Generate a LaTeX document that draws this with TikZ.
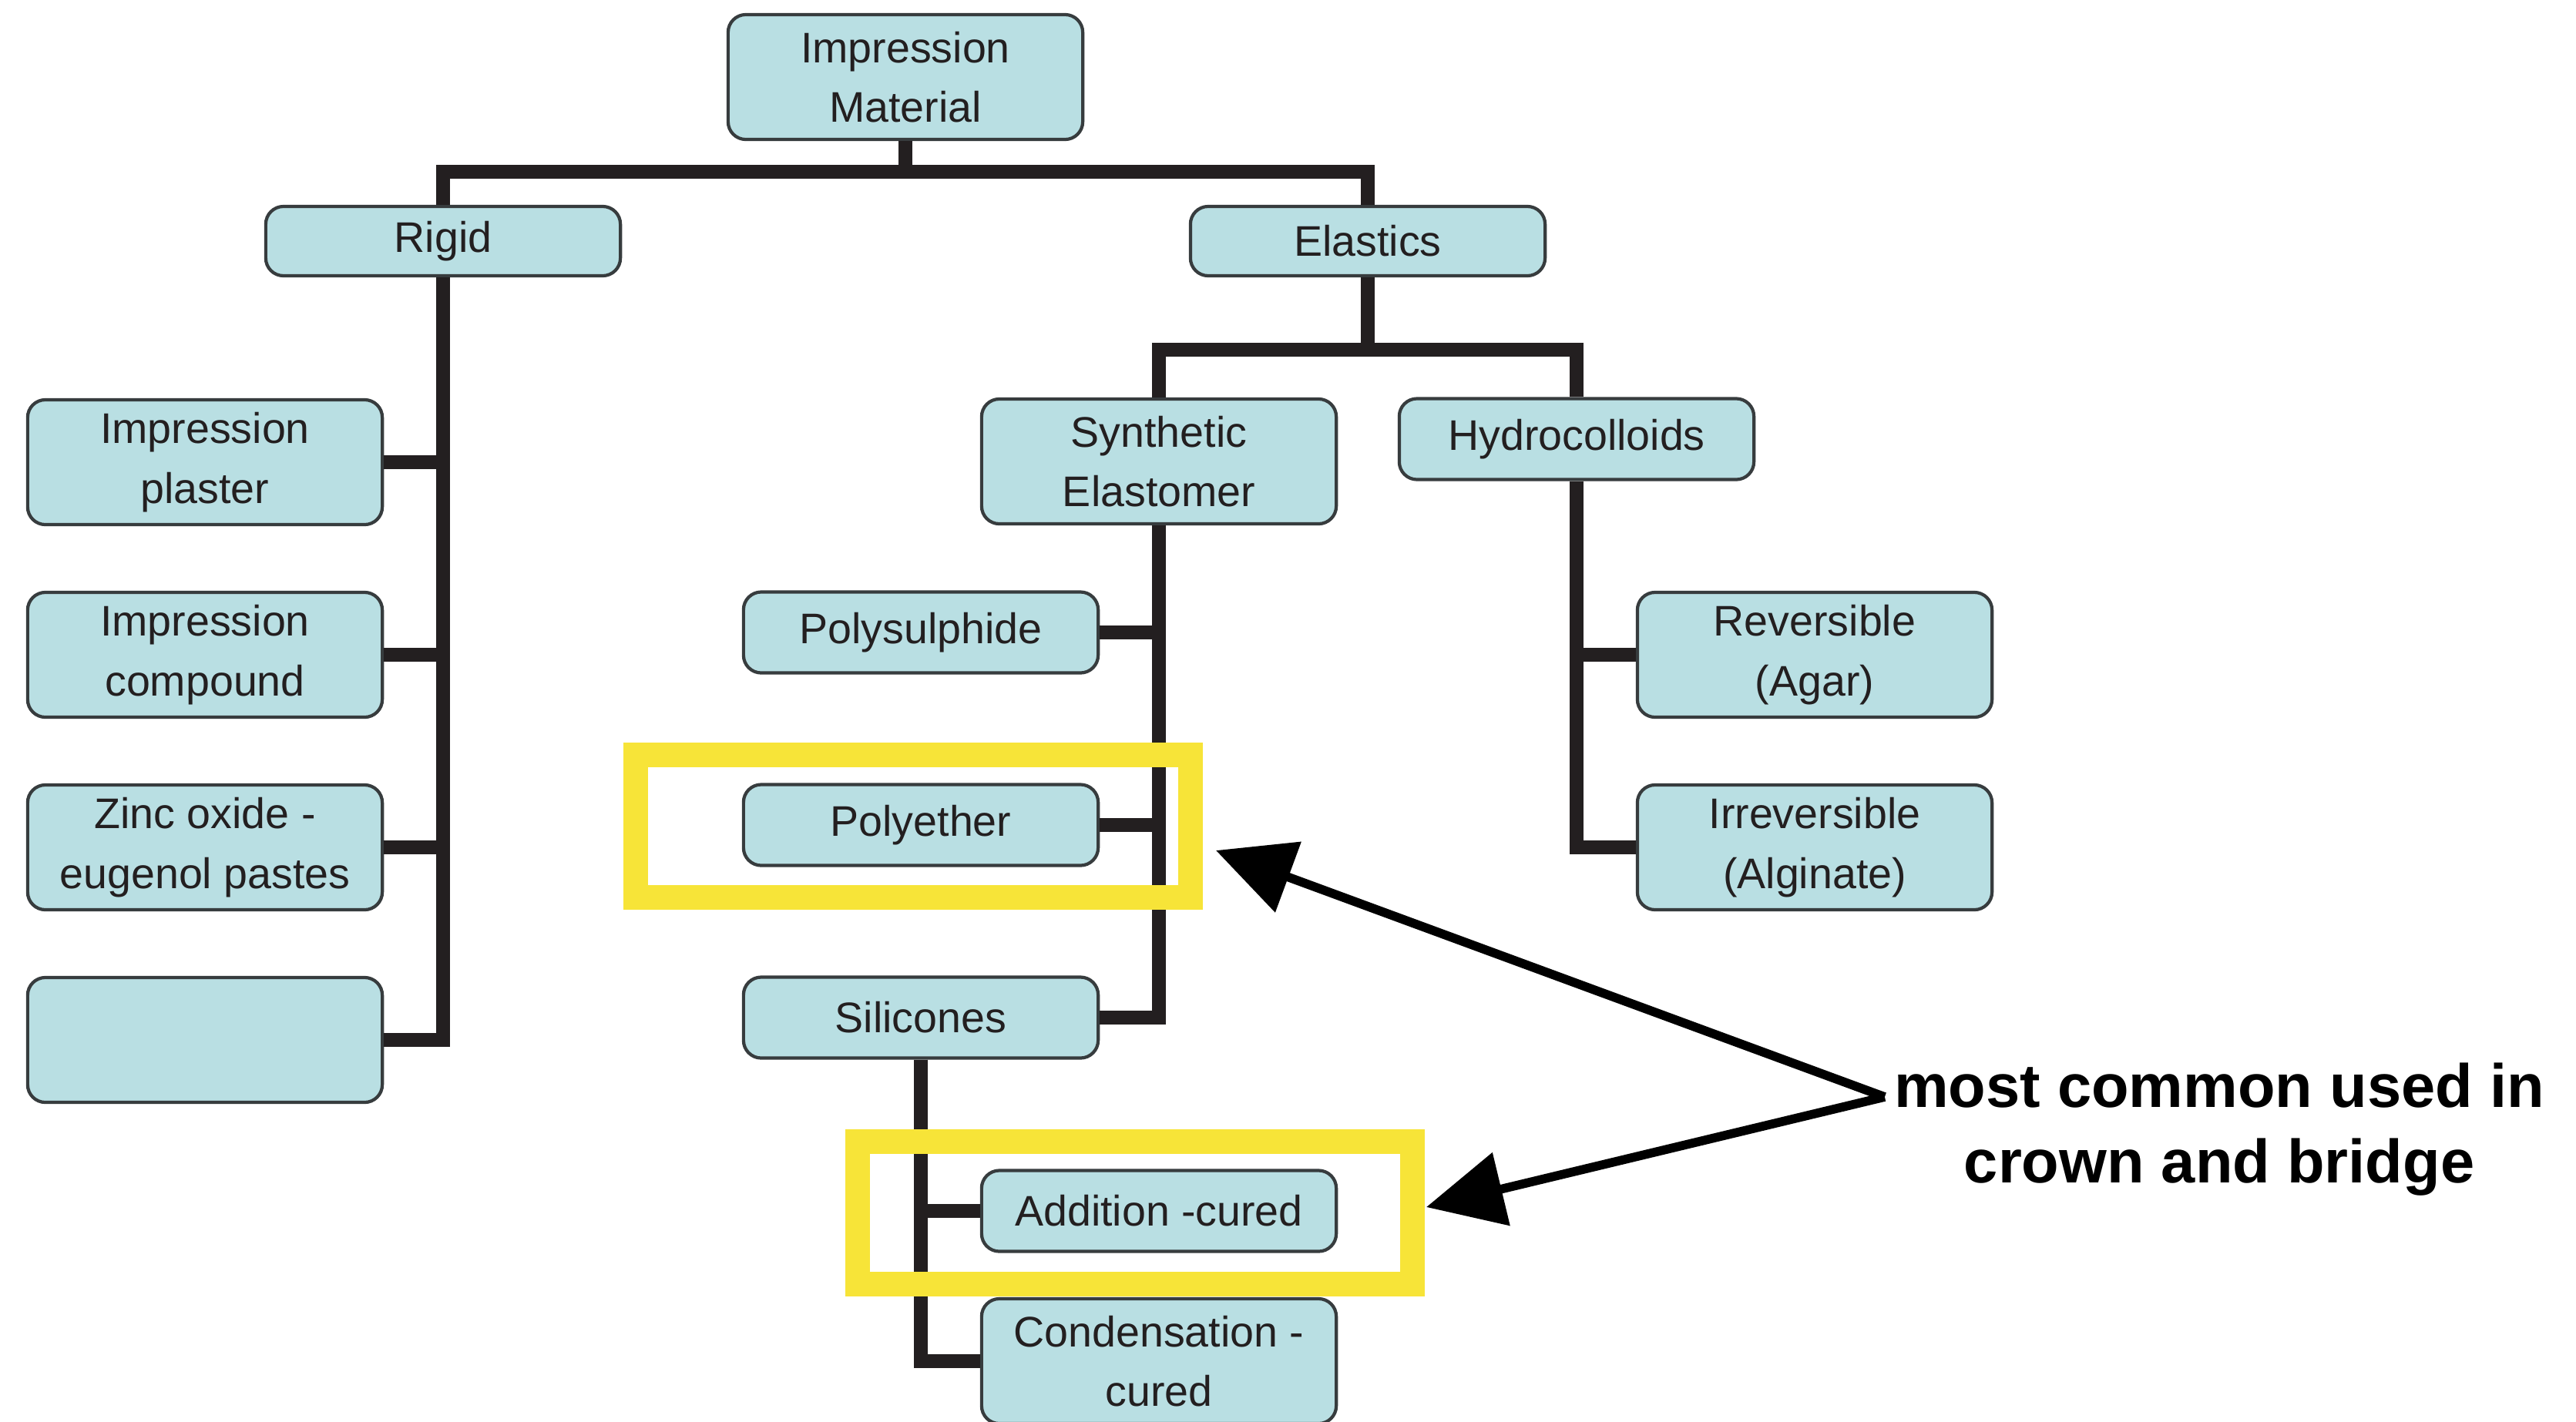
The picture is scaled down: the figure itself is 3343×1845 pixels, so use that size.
\documentclass[tikz,border=0pt]{standalone}
\usepackage{fontspec}
\setmainfont{Liberation Sans}
\usetikzlibrary{arrows.meta}

\definecolor{boxfill}{RGB}{185,223,227}
\definecolor{boxline}{RGB}{55,60,62}
\definecolor{ink}{RGB}{35,31,32}
\definecolor{marker}{RGB}{247,228,56}

\tikzset{
  matbox/.style={draw=boxline, fill=boxfill, line width=1.2pt, rounded corners=0.23cm,
    minimum width=4.6cm, align=center, text=ink, font=\fontsize{15.8}{22}\selectfont},
  tall/.style={minimum height=1.62cm},
  flat/.style={minimum height=1.05cm},
  slim/.style={minimum height=0.9cm},
  branch/.style={draw=ink, line width=5pt},
  hilite/.style={draw=marker, line width=9pt},
  pointer/.style={draw=black, line width=3.3pt, -{Triangle[length=1cm, width=0.95cm]}},
  notetext/.style={align=center, font=\bfseries\fontsize{22.6}{27.9}\selectfont},
}

\begin{document}
\begin{tikzpicture}[x=0.01cm, y=-0.01cm]
\useasboundingbox (0,0) rectangle (3343,1845);

% top level
\node [matbox, tall] (mat) at (1175,100) {Impression\\Material};
\node [matbox, slim] (rigid) at (575,313) {Rigid};
\node [matbox, slim] (elast) at (1775,313) {Elastics};
\draw [branch] (mat.south) -- ++(0,40) -| (rigid.north);
\draw [branch] (mat.south) -- ++(0,40) -| (elast.north);

% rigid materials
\foreach \m/\l [count=\i] in {plaster/Impression\\plaster, compound/Impression\\compound, zoe/Zinc oxide -\\eugenol pastes, blank/}
  \node [matbox, tall] (rigid-\m) at (266,350+\i*250) {\l};
\foreach \m in {plaster,compound,zoe,blank}
  \draw [branch] (rigid.south) |- (rigid-\m.east);

% elastics
\node [matbox, tall] (synth) at (1504,599) {Synthetic\\Elastomer};
\node [matbox, flat] (hydro) at (2046,570) {Hydrocolloids};
\draw [branch] (elast.south) -- ++(0,94) -| (synth.north);
\draw [branch] (elast.south) -- ++(0,94) -| (hydro.north);

\foreach \m/\l [count=\i] in {polys/Polysulphide, polye/Polyether, silic/Silicones}
  \node [matbox, flat] (synth-\m) at (1195,571+\i*250) {\l};
\foreach \m in {polys,polye,silic}
  \draw [branch] (synth.south) |- (synth-\m.east);

\foreach \m/\l [count=\i] in {rev/Reversible\\(Agar), irrev/Irreversible\\(Alginate)}
  \node [matbox, tall] (hydro-\m) at (2355,600+\i*250) {\l};
\foreach \m in {rev,irrev}
  \draw [branch] (hydro.south) |- (hydro-\m.west);

% silicones
\node [matbox, flat] (silic-add) at (1504,1572) {Addition -cured};
\node [matbox, tall] (silic-cond) at (1504,1767) {Condensation -\\cured};
\foreach \m in {add,cond}
  \draw [branch] (synth-silic.south) |- (silic-\m.west);

% highlights
\draw [hilite] (825,980) rectangle (1545,1165);
\draw [hilite] (1113,1482) rectangle (1833,1667);

% note
\node [notetext] (note) at (2880,1466) {most common used in\\crown and bridge};
\coordinate (fork) at ([yshift=0.42cm]note.west);
\coordinate (tip-polye) at (1578,1104);
\coordinate (tip-add) at (1851,1567);
\draw [pointer] (fork) -- (tip-polye);
\draw [pointer] (fork) -- (tip-add);

\end{tikzpicture}
\end{document}
